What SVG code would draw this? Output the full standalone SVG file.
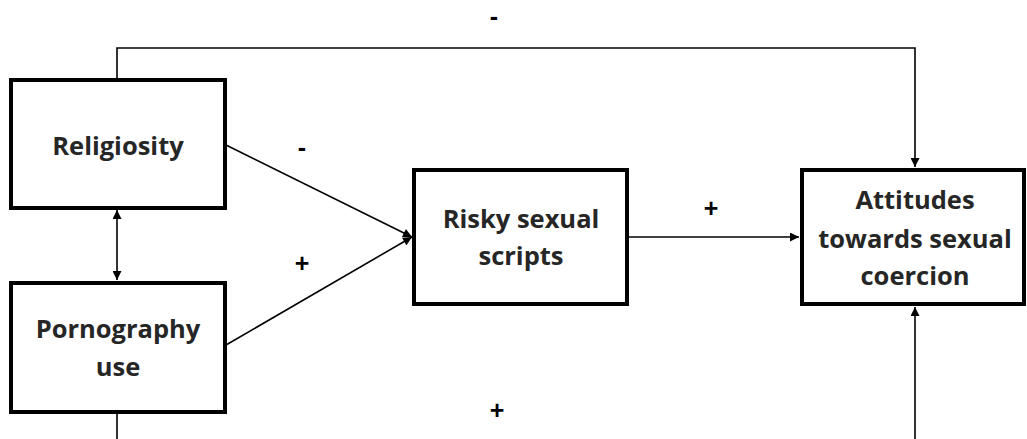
<svg xmlns="http://www.w3.org/2000/svg" width="1027" height="439" viewBox="0 0 1027 439">
<style>
.box{fill:#fff;stroke:#000;stroke-width:4}
.t{font-family:"Open Sans","Liberation Sans",sans-serif;font-weight:bold;font-size:25.5px;fill:#262626;text-anchor:middle}
.s{font-family:"Liberation Sans",sans-serif;font-weight:bold;font-size:25px;fill:#000;text-anchor:middle}
.c{fill:none;stroke:#000;stroke-width:1.6}
</style>
<defs>
<marker id="ah" viewBox="0 0 10 10" refX="10" refY="5" markerWidth="10" markerHeight="9" markerUnits="userSpaceOnUse" orient="auto-start-reverse">
<path d="M0,0 L10,5 L0,10 z" fill="#000"/>
</marker>
</defs>
<g id="connectors">
<polyline class="c" points="117,79 117,48 915,48 915,167" marker-end="url(#ah)"/>
<line class="c" x1="117" y1="210" x2="117" y2="280" marker-start="url(#ah)" marker-end="url(#ah)"/>
<line class="c" x1="226" y1="145" x2="412" y2="237" marker-end="url(#ah)"/>
<line class="c" x1="226" y1="345" x2="412" y2="237" marker-end="url(#ah)"/>
<line class="c" x1="628" y1="237" x2="799" y2="237" marker-end="url(#ah)"/>
<line class="c" x1="117" y1="412" x2="117" y2="439"/>
<line class="c" x1="915" y1="439" x2="915" y2="307" marker-end="url(#ah)"/>
<text class="s" x="494" y="25">-</text>
<text class="s" x="302" y="156">-</text>
<text class="s" x="302" y="272">+</text>
<text class="s" x="711" y="217">+</text>
<text class="s" x="497" y="419">+</text>
</g>
<g id="religiosity">
<rect class="box" x="11" y="80" width="214" height="128"/>
<text class="t" x="118" y="155">Religiosity</text>
</g>
<g id="pornography">
<rect class="box" x="11" y="283" width="214" height="129"/>
<text class="t" x="118" y="338">Pornography</text>
<text class="t" x="118" y="376">use</text>
</g>
<g id="risky">
<rect class="box" x="414" y="170" width="213" height="134"/>
<text class="t" x="521" y="228">Risky sexual</text>
<text class="t" x="521" y="265">scripts</text>
</g>
<g id="attitudes">
<rect class="box" x="802" y="170" width="222" height="134"/>
<text class="t" x="915" y="209">Attitudes</text>
<text class="t" x="915" y="248">towards sexual</text>
<text class="t" x="915" y="285">coercion</text>
</g>
</svg>
